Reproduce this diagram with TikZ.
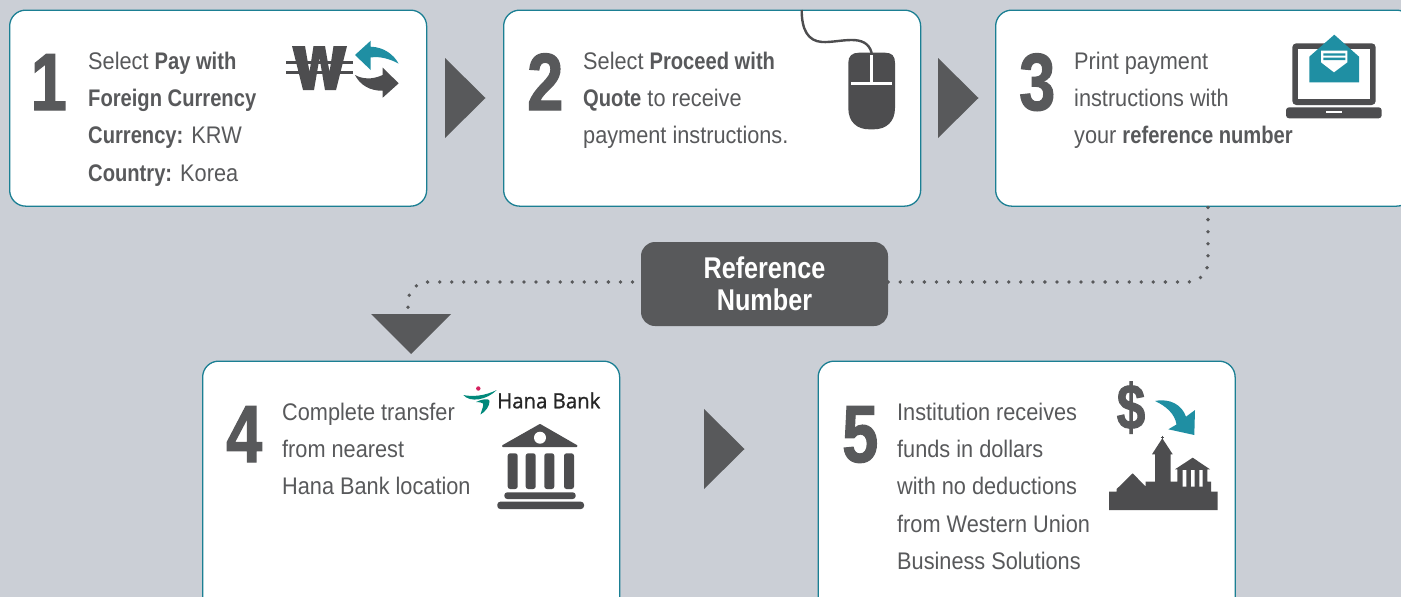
\documentclass[tikz,border=0pt]{standalone}
\usepackage{fontspec}
\setmainfont[UprightFeatures={FakeStretch=0.905},BoldFeatures={FakeStretch=0.84}]{Liberation Sans}
\newfontfamily\numfont[BoldFeatures={FakeStretch=0.8,FakeBold=1.5}]{Liberation Sans}
\newfontfamily\logofont[FakeBold=1,FakeStretch=0.97]{Open Sans}
\definecolor{bgc}{HTML}{CBCFD6}
\definecolor{dk}{HTML}{58595B}
\definecolor{dkk}{HTML}{4D4D4F}
\definecolor{tl}{HTML}{1F8FA3}
\definecolor{tlb}{HTML}{1B7F93}
\definecolor{hanapink}{HTML}{D6215F}
\definecolor{hanagreen}{HTML}{00897B}
\newcommand{\fl}{\rule{0pt}{20pt}}
\tikzset{
  card/.style={draw=tlb,line width=1.3pt,fill=white,rounded corners=16pt,minimum width=417pt,minimum height=196pt,inner sep=0pt,anchor=north west},
  tallcard/.style={card,minimum height=280pt},
  bignum/.style={text=dk,font=\fontsize{81}{81}\selectfont\numfont\bfseries,inner sep=0pt,anchor=base west},
  body/.style={text=dk,font=\fontsize{24}{37.3}\selectfont,align=left,inner sep=0pt,anchor=north west},
  chev/.style={fill=dk},
  refbox/.style={fill=dk,rounded corners=14pt,minimum width=247pt,minimum height=84pt,inner sep=0pt,text=white,align=center,font=\fontsize{30}{32}\selectfont\bfseries},
  dots/.style={dk,line width=3.8pt,line cap=round,dash pattern=on 0pt off 12.05pt},
  icon/.style={fill=dkk},
  tealicon/.style={fill=tl},
}
\begin{document}
\begin{tikzpicture}[x=1pt,y=-1pt]
\useasboundingbox (0,0) rectangle (1401,597);
\fill[bgc] (0,0) rectangle (1401,597);

% cards
\node[card] (box1) at (9,9.5) {};
\node[card] (box2) at (503,9.5) {};
\node[card] (box3) at (995,9.5) {};
\node[tallcard] (box4) at (202,360.5) {};
\node[tallcard] (box5) at (817.5,360.5) {};

% numbers
\node[bignum] (n1) at (30.5,110) {1};
\node[bignum] (n2) at (527,110) {2};
\node[bignum] (n3) at (1019,110) {3};
\node[bignum] (n4) at (226,462) {4};
\node[bignum] (n5) at (842,462) {5};

% texts
\node[body] (t1) at (88,49) {\fl Select \textbf{Pay with}\\\textbf{Foreign Currency}\\\textbf{Currency:} KRW\\\textbf{Country:} Korea};
\node[body] (t2) at (583,49) {\fl Select \textbf{Proceed with}\\\textbf{Quote} to receive\\payment instructions.};
\node[body] (t3) at (1074,49) {\fl Print payment\\instructions with\\your \textbf{reference number}};
\node[body] (t4) at (282,400) {\fl Complete transfer\\from nearest\\Hana Bank location};
\node[body] (t5) at (897,400) {\fl Institution receives\\funds in dollars\\with no deductions\\from Western Union\\Business Solutions};

% flow arrows
\fill[chev] (445,58) -- (485.5,98) -- (445,138) -- cycle;
\fill[chev] (938,58) -- (978.5,98) -- (938,138) -- cycle;
\fill[chev] (704,409) -- (744.5,449) -- (704,489) -- cycle;

% reference number
\node[refbox] (ref) at (764.5,284) {Reference\\Number};
\coordinate (bendr) at (1208,282);
\coordinate (bendl) at (408,282);
\coordinate (tritop) at (408,314);
\draw[dots,rounded corners=20pt] (ref.east |- bendr) -- (bendr) -- (bendr |- box3.south);
\draw[dots,rounded corners=20pt,dash phase=3.7pt] (ref.west |- bendl) -- (bendl) -- (tritop);
\fill[chev] (371,314) -- (451,314) -- (411,354) -- cycle;

% won icon
\fill[icon] (292,46) -- (305,46) -- (309.5,72) -- (313.5,46) -- (325,46) -- (329.5,72) -- (333.5,46) -- (347,46) -- (336,90) -- (325,90) -- (319.5,58) -- (314,90) -- (303,90) -- cycle;
\draw[dkk,line width=3pt] (286,62.3) -- (353,62.3) (286,72) -- (353,72);
\fill[tealicon] (355,55) -- (370.7,40.7) -- (370.7,46.7) .. controls (384,47) and (394,55) .. (398.5,63.5) .. controls (390,59) and (380,56) .. (370.7,57.5) -- (370.7,70) -- cycle;
\fill[icon] (398.7,83.3) -- (382.7,67.7) -- (382.7,75) .. controls (372,80) and (362,79) .. (355,75) .. controls (360,85) and (370,91) .. (382.7,90.7) -- (382.7,97.7) -- cycle;

% mouse icon
\draw[dkk,line width=2.4pt] (801.7,10) .. controls (801.7,30) and (808,41) .. (822,42) .. controls (840,43) and (866,32) .. (871.7,53);
\fill[icon] (859,52.7) -- (885,52.7) .. controls (892,52.7) and (895,56) .. (895,63) -- (895,108) .. controls (895,122) and (886,129.3) .. (874,129.3) -- (869,129.3) .. controls (857,129.3) and (848.3,122) .. (848.3,108) -- (848.3,63) .. controls (848.3,56) and (852,52.7) .. (859,52.7) -- cycle;
\draw[white,line width=2.6pt] (851,83.3) -- (892,83.3) (871.7,55) -- (871.7,83.3);

% laptop icon
\fill[icon,rounded corners=4pt] (1292.3,43.3) rectangle (1375.7,105);
\fill[white] (1297.7,49.3) rectangle (1370,99.3);
\fill[icon,rounded corners=3pt] (1286,107.3) rectangle (1381.7,118.3);
\fill[white] (1326,110.7) rectangle (1342,112.7);
\fill[tealicon] (1309.3,56.7) -- (1334.3,34.7) -- (1359,56.7) -- (1359,82.3) -- (1309.3,82.3) -- cycle;
\fill[white] (1321,50.7) -- (1347.3,50.7) -- (1347.3,62.3) -- (1334,72.3) -- (1321,62.3) -- cycle;
\fill[tealicon] (1323.3,53.3) rectangle (1345.3,55.7) (1323.3,57.7) rectangle (1345.3,60);

% Hana Bank logo
\fill[hanapink] (478.3,388.5) circle (2.2);
\fill[hanagreen] (463.3,395) .. controls (472,397) and (485,396) .. (496.7,390) .. controls (487,400) and (470,403) .. (463.3,395) -- cycle;
\fill[hanagreen] (476,402) .. controls (482,399) and (489,398) .. (489.5,401) .. controls (490,406) and (485,412) .. (480.5,414.5) .. controls (482,409) and (484,405) .. (483,403.5) .. controls (482,402.5) and (479,402) .. (476,402) -- cycle;
\node[text=black!85,font=\logofont\fontsize{21}{21}\selectfont,inner sep=0pt,anchor=base west] (hana) at (497,408.3) {Hana Bank};

% bank icon
\fill[icon,draw=dkk,line width=2pt,line join=round] (503,446) -- (540,425) -- (576.5,446) -- cycle;
\fill[white] (540,437.7) circle (6);
\foreach \xa in {507.7,525.7,544.3,564}
  \fill[icon,rounded corners=2.5pt] (\xa,453.3) rectangle ++(10,35.7);
\fill[icon,rounded corners=3pt] (504.3,492.3) rectangle (575.7,499);
\fill[icon,rounded corners=3pt] (497.3,501.7) rectangle (584,509);

% dollar icon
\node[text=dk,font=\fontsize{64}{64}\selectfont\numfont\bfseries,inner sep=0pt,anchor=base] (dollar) at (1131,429) {\$};
\fill[tealicon] (1155,401) .. controls (1170,398) and (1182,405) .. (1186,416.7) -- (1195,410) -- (1194.3,435) -- (1168.3,429.3) -- (1176.5,424.5) .. controls (1175,414) and (1166,406) .. (1155,401) -- cycle;

% campus icon
\fill[icon] (1109,491.7) -- (1116.7,491.7) -- (1116.7,489) -- (1132.7,473.3) -- (1145.7,486.7) -- (1145.7,481.7) -- (1155,481.7) -- (1155,454.3) -- (1152,454.3) -- (1162.3,438.3) -- (1172.7,454.3) -- (1170.7,454.3) -- (1170.7,481.7) -- (1177.3,481.7) -- (1177.3,469.3) -- (1175,469.3) -- (1192.7,457.7) -- (1210,469.3) -- (1207.3,469.3) -- (1207.3,481.7) -- (1211,481.7) -- (1211,491.7) -- (1217.7,491.7) -- (1217.7,510) -- (1109,510) -- cycle;
\draw[dkk,line width=1pt] (1162.3,435.5) -- (1162.3,440) (1160.5,437) -- (1164,437);
\fill[white] (1182.7,470) rectangle (1186.3,486.7) (1191,470) rectangle (1194.7,486.7) (1199.3,470) rectangle (1202.7,486.7);
\end{tikzpicture}
\end{document}
